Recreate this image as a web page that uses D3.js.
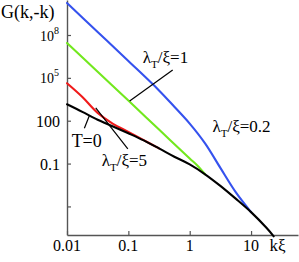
<!DOCTYPE html>
<html>
<head>
<meta charset="utf-8">
<script src="https://cdn.jsdelivr.net/npm/d3@7"></script>
<style>
  html, body { margin: 0; padding: 0; background: #fff; }
</style>
</head>
<body>
<svg id="chart"></svg>
<script>
// values (k, G)
const kT0 = [0.01, 0.0178, 0.0316, 0.0562, 0.1, 0.178, 0.316, 0.562, 1, 1.78, 3.16, 5.62, 10, 17.8, 23.4];
const gT0 = [1413, 417, 117, 39.8, 13.2, 4.17, 1.15, 0.302, 0.087, 0.0178, 2.75e-3, 3.5e-4, 4.0e-5, 3.2e-6, 8.1e-7];

const kL5 = [0.01, 0.0178, 0.0316, 0.0562, 0.1, 0.178, 0.316];
const gL5 = [4.17e4, 4.57e3, 355, 60, 16.6, 4.37, 1.15];

const kL1 = [0.01, 0.0316, 0.1, 0.316, 1, 1.33, 1.78];
const gL1 = [2.75e7, 2.63e5, 2570, 24, 0.229, 0.074, 0.0178];

const kL02 = [0.01, 0.0316, 0.1, 0.316, 0.562, 1, 1.78, 3.16, 5.62, 10];
const gL02 = [1.74e10, 1.62e8, 1.51e6, 1.32e4, 950, 63, 2.6, 0.05, 1.0e-3, 4.0e-5];

const xTicks = [0.01, 0.1, 1, 10];
const xTickLabels = ["0.01", "0.1", "1", "10"];
const yTicks = [1e8, 1e5, 100, 0.1, 1e-4];
const yTickLabels = [["10", "8"], ["10", "5"], ["100", ""], ["0.1", ""], null];

// annotation pointers: [[k1, G1], [k2, G2]]
const pointers = [
    [[0.528, 3.55e5], [0.105, 2.4e3]],
    [[0.0192, 30], [0.0232, 229]],
    [[0.098, 1.07], [0.0294, 794]]
];

const serif = "'Liberation Serif', 'Times New Roman', Times, 'DejaVu Serif', serif";
const width = 299, height = 262;
const svg = d3.select("#chart")
    .attr("width", width).attr("height", height);

const x = d3.scaleLog().domain([0.01, Math.pow(10, 1.765)]).range([67, 298]);
const y = d3.scaleLog().domain([1e-6, Math.pow(10, 10.45)]).range([235, 0]);

const line = d3.line()
    .x(d => x(d[0]))
    .y(d => y(d[1]))
    .curve(d3.curveCatmullRom.alpha(0.5));

const zip = (ks, gs) => ks.map((k, i) => [k, gs[i]]);

// axes
const axisColor = "#555";
const yAxis = svg.append("g")
    .attr("transform", `translate(${x(0.01)},0)`)
    .call(d3.axisRight(y).tickValues(yTicks).tickSize(4).tickSizeOuter(0).tickFormat(""));
const xAxis = svg.append("g")
    .attr("transform", `translate(0,${y(1e-6)})`)
    .call(d3.axisTop(x).tickValues(xTicks).tickSize(4).tickSizeOuter(0).tickFormat(""));
[xAxis, yAxis].forEach(a => {
    a.select(".domain").attr("stroke", axisColor).attr("stroke-width", 1.4);
    a.selectAll(".tick line").attr("stroke", axisColor).attr("stroke-width", 1.2);
});

// curves, black on top
const series = [
    { k: kL02, g: gL02, color: "#3552ee" },
    { k: kL1, g: gL1, color: "#72e81e" },
    { k: kL5, g: gL5, color: "#f01a1a" },
    { k: kT0, g: gT0, color: "#000" }
];
series.forEach(s => {
    svg.append("path")
       .attr("d", line(zip(s.k, s.g)))
       .attr("fill", "none")
       .attr("stroke", s.color)
       .attr("stroke-width", 2.1)
       .attr("stroke-linecap", "round");
});

// pointers
pointers.forEach(p => {
    svg.append("line")
       .attr("x1", x(p[0][0])).attr("y1", y(p[0][1]))
       .attr("x2", x(p[1][0])).attr("y2", y(p[1][1]))
       .attr("stroke", "#000")
       .attr("stroke-width", 1.2);
});

const addText = (xp, yp, size, str) => svg.append("text")
    .style("font-family", serif)
    .attr("x", xp).attr("y", yp)
    .attr("font-size", size)
    .text(str);

// x tick labels
xTicks.forEach((v, i) => {
    addText(x(v), 251, 16, xTickLabels[i]).attr("text-anchor", "middle");
});
addText(x(Math.pow(10, 1.43)), 251, 17, "kξ").attr("text-anchor", "middle");

// y tick labels
yTicks.forEach((v, i) => {
    const lab = yTickLabels[i];
    if (!lab) return;
    if (lab[1]) {
        const t = addText(59, y(v) + 5.5, 14, null).attr("text-anchor", "end");
        t.append("tspan").text(lab[0]);
        t.append("tspan").attr("font-size", 10).attr("dy", -7).text(lab[1]);
    } else {
        addText(60, y(v) + 6, 16, lab[0]).attr("text-anchor", "end");
    }
});

// axis title
addText(1, 18, 18, "G(k,-k)");

// curve labels
const lambdaLabel = (k, g, value) => {
    const t = addText(x(k), y(g), 17, null);
    t.append("tspan").text("λ");
    t.append("tspan").attr("font-size", 11).attr("dy", 5).text("T");
    t.append("tspan").attr("dy", -5).text("/ξ=" + value);
};
lambdaLabel(0.172, 1.1e6, "1");
lambdaLabel(2.35, 17.4, "0.2");
lambdaLabel(0.0368, 0.069, "5");

addText(x(0.0119), y(1.48), 18, "T=0");
</script>
</body>
</html>
